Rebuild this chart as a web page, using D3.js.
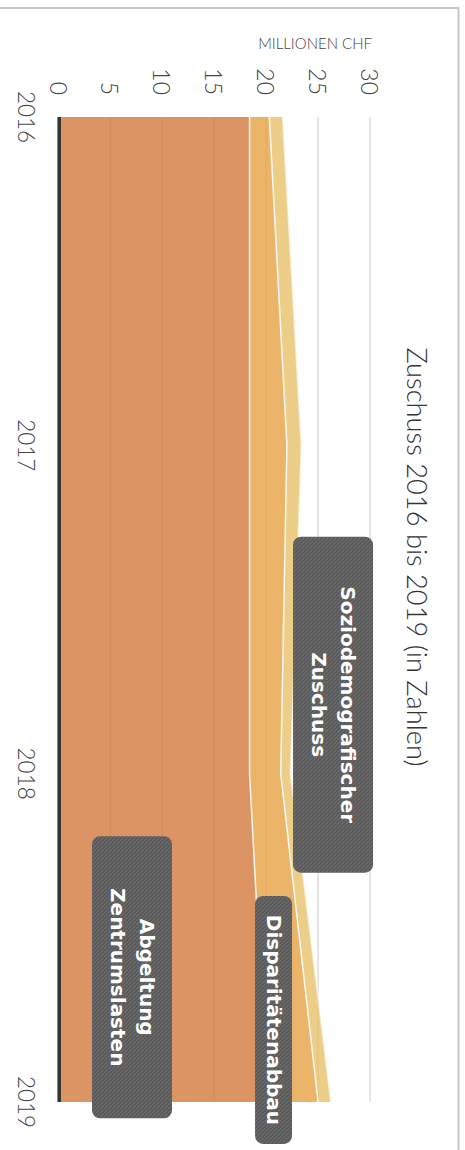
<!DOCTYPE html>
<html>
<head>
<meta charset="utf-8">
<script src="https://cdn.jsdelivr.net/npm/d3@7"></script>
<style>
  body { margin: 0; background: #fff; }
  svg { display: block; }
</style>
</head>
<body>
<div id="visualization"></div>
<script>
// data (Mio. CHF, stacked)
const years = [2016, 2017, 2018, 2019];
const zentrumslasten = [18.4, 18.4, 18.4, 20.1];
const disparitaeten = [1.9, 3.6, 3.0, 4.9];
const soziodemografisch = [1.3, 1.4, 0.95, 1.25];
const valueTicks = [0, 5, 10, 15, 20, 25, 30];
const seriesKeys = ["zentrumslasten", "disparitaeten", "soziodemografisch"];

// annotations: text lines and where they sit in data space
const noteLines = [["Soziodemografischer", "Zuschuss"], ["Abgeltung", "Zentrumslasten"], ["Disparitätenabbau"]];
const noteYears = [2017.79, 2018.62, 2018.75];
const noteValues = [26.44, 7.08, 20.71];

const width = 465;
const height = 1150;
const colours = ["#d3793f", "#e6a142", "#e9c26a"];
const boxSizes = [[336, 80], [282, 80], [248, 37]];

const svg = d3.select("#visualization").append("svg")
  .attr("width", width)
  .attr("height", height);

const defs = svg.append("defs");
const pattern = defs.append("pattern")
  .attr("id", "stripes")
  .attr("patternUnits", "userSpaceOnUse")
  .attr("width", 4)
  .attr("height", 4);
pattern.append("rect").attr("width", 4).attr("height", 4).attr("fill", "#565656");
pattern.append("path")
  .attr("d", "M-1,-1 l2,2 M0,0 l4,4 M3,3 l2,2")
  .attr("stroke", "#747474")
  .attr("stroke-width", 1.1);

// frame
svg.append("rect")
  .attr("x", -5).attr("y", 8)
  .attr("width", 463.5).attr("height", 1200)
  .attr("fill", "none")
  .attr("stroke", "#c8c8c8")
  .attr("stroke-width", 2);

svg.append("text")
  .attr("x", 372).attr("y", 49)
  .attr("text-anchor", "end")
  .attr("font-family", "Lato, sans-serif")
  .attr("font-weight", 300)
  .attr("font-size", 15)
  .attr("fill", "#444")
  .text("MILLIONEN CHF");

// chart is drawn turned a quarter clockwise
const chart = svg.append("g").attr("transform", `translate(${width},0) rotate(90)`);

const x = d3.scaleLinear().domain([2016, 2019]).range([117, 1102]);
const y = d3.scaleLinear().domain([0, 30]).range([406.5, 95]);

const table = years.map((yr, i) => ({
  year: yr,
  zentrumslasten: zentrumslasten[i],
  disparitaeten: disparitaeten[i],
  soziodemografisch: soziodemografisch[i]
}));
const stacked = d3.stack().keys(seriesKeys)(table);

// grid
chart.append("g")
  .selectAll("line")
  .data(valueTicks)
  .join("line")
  .attr("x1", x(2016)).attr("x2", x(2019))
  .attr("y1", d => y(d)).attr("y2", d => y(d))
  .attr("stroke", "#dcdcdc")
  .attr("stroke-width", 1.5);

const area = d3.area()
  .x(d => x(d.data.year))
  .y0(d => y(d[0]))
  .y1(d => y(d[1]));

const topLine = d3.line()
  .x(d => x(d.data.year))
  .y(d => y(d[1]));

chart.append("g")
  .selectAll("path")
  .data(stacked)
  .join("path")
  .attr("d", area)
  .attr("fill", (d, i) => colours[i])
  .attr("fill-opacity", 0.8);

chart.append("g")
  .selectAll("path")
  .data(stacked)
  .join("path")
  .attr("d", topLine)
  .attr("fill", "none")
  .attr("stroke", "#fff")
  .attr("stroke-width", (d, i) => i == 2 ? 2 : 1.5)
  .attr("stroke-opacity", (d, i) => i == 2 ? 0.55 : 0.9);

// baseline at zero
chart.append("line")
  .attr("x1", x(2016)).attr("x2", x(2019))
  .attr("y1", y(0) - 0.7).attr("y2", y(0) - 0.7)
  .attr("stroke", "#333")
  .attr("stroke-width", 3.5);

// value labels (left axis in the unrotated chart)
chart.append("g")
  .selectAll("text")
  .data(valueTicks)
  .join("text")
  .attr("x", 95)
  .attr("y", d => y(d))
  .attr("text-anchor", "end")
  .attr("dominant-baseline", "central")
  .attr("font-family", "Lato, sans-serif")
  .attr("font-weight", 300)
  .attr("font-size", 23)
  .attr("fill", "#444")
  .text(d => d);

// year labels
chart.append("g")
  .selectAll("text")
  .data(years)
  .join("text")
  .attr("x", d => x(d))
  .attr("y", 447)
  .attr("text-anchor", "middle")
  .attr("font-family", "Lato, sans-serif")
  .attr("font-weight", 300)
  .attr("font-size", 22.5)
  .attr("fill", "#444")
  .text(d => d);

chart.append("text")
  .attr("x", 557)
  .attr("y", 58)
  .attr("text-anchor", "middle")
  .attr("font-family", "Lato, sans-serif")
  .attr("font-weight", 300)
  .attr("font-size", 27.3)
  .attr("fill", "#333")
  .text("Zuschuss 2016 bis 2019 (in Zahlen)");

// annotation boxes
const notes = chart.append("g")
  .selectAll("g")
  .data(noteLines)
  .join("g")
  .attr("transform", (d, i) => `translate(${x(noteYears[i])},${y(noteValues[i])})`);

notes.append("rect")
  .attr("x", (d, i) => -boxSizes[i][0] / 2)
  .attr("y", (d, i) => -boxSizes[i][1] / 2)
  .attr("width", (d, i) => boxSizes[i][0])
  .attr("height", (d, i) => boxSizes[i][1])
  .attr("rx", 8)
  .attr("fill", "url(#stripes)");

notes.each(function(lines) {
  d3.select(this).selectAll("text")
    .data(lines)
    .join("text")
    .attr("x", 0)
    .attr("y", (t, j) => (j - (lines.length - 1) / 2) * 29)
    .attr("text-anchor", "middle")
    .attr("dominant-baseline", "central")
    .attr("font-family", "'DejaVu Sans', sans-serif")
    .attr("font-weight", "bold")
    .attr("font-size", 20)
    .attr("fill", "#fff")
    .text(t => t);
});
</script>
</body>
</html>
